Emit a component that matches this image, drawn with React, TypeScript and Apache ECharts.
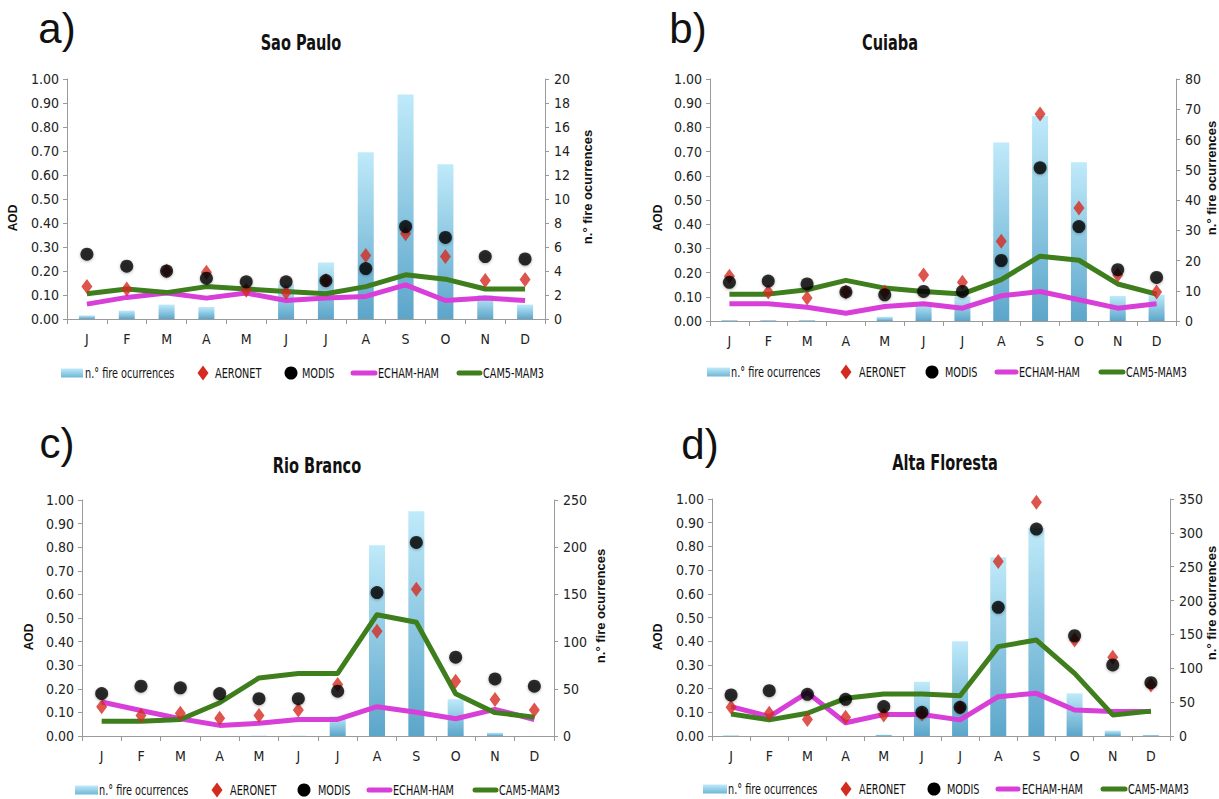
import React, { useEffect, useRef } from "react";
import * as echarts from "echarts";

const months = ["J", "F", "M", "A", "M", "J", "J", "A", "S", "O", "N", "D"];
const aodTicks = { min: 0, max: 1, interval: 0.1 };

// a) Sao Paulo
const fireSaoPaulo = [0.3, 0.7, 1.2, 1.0, 0, 2.9, 4.7, 13.9, 18.7, 12.9, 2.0, 1.2];
const aeronetSaoPaulo = [0.135, 0.125, 0.2, 0.195, 0.12, 0.11, 0.16, 0.265, 0.355, 0.26, 0.16, 0.165];
const modisSaoPaulo = [0.27, 0.22, 0.2, 0.17, 0.155, 0.155, 0.16, 0.21, 0.385, 0.34, 0.26, 0.25];
const echamSaoPaulo = [0.062, 0.09, 0.108, 0.087, 0.108, 0.077, 0.087, 0.094, 0.142, 0.077, 0.087, 0.077];
const camSaoPaulo = [0.105, 0.125, 0.11, 0.135, 0.125, 0.115, 0.105, 0.135, 0.184, 0.166, 0.125, 0.125];

// b) Cuiaba
const fireCuiaba = [0.3, 0.3, 0.3, 0, 1.4, 5.9, 8.1, 59, 67.8, 52.5, 8.3, 8.7];
const aeronetCuiaba = [0.185, 0.12, 0.095, 0.12, 0.12, 0.19, 0.16, 0.33, 0.855, 0.467, 0.19, 0.12];
const modisCuiaba = [0.16, 0.165, 0.153, 0.12, 0.108, 0.122, 0.122, 0.25, 0.633, 0.39, 0.212, 0.18];
const echamCuiaba = [0.071, 0.071, 0.057, 0.032, 0.06, 0.071, 0.053, 0.104, 0.122, 0.088, 0.053, 0.071];
const camCuiaba = [0.111, 0.111, 0.129, 0.168, 0.136, 0.122, 0.112, 0.171, 0.268, 0.251, 0.153, 0.111];

// c) Rio Branco
const fireRioBranco = [0, 0, 0, 0, 0.5, 0.5, 21, 202, 238, 39, 3.5, 0];
const aeronetRioBranco = [0.124, 0.087, 0.096, 0.075, 0.087, 0.11, 0.218, 0.444, 0.622, 0.232, 0.155, 0.11];
const modisRioBranco = [0.18, 0.211, 0.204, 0.18, 0.158, 0.158, 0.19, 0.608, 0.82, 0.334, 0.242, 0.211];
const echamRioBranco = [0.144, 0.108, 0.073, 0.045, 0.054, 0.07, 0.07, 0.124, 0.101, 0.073, 0.113, 0.07];
const camRioBranco = [0.063, 0.063, 0.07, 0.141, 0.246, 0.265, 0.265, 0.514, 0.482, 0.179, 0.099, 0.08];

// d) Alta Floresta
const fireAltaFloresta = [1, 0, 0, 0, 2, 80, 140, 264, 307, 63, 7.9, 1.5];
const aeronetAltaFloresta = [0.121, 0.096, 0.07, 0.079, 0.089, 0.093, 0.12, 0.736, 0.986, 0.405, 0.332, 0.215];
const modisAltaFloresta = [0.173, 0.191, 0.176, 0.155, 0.124, 0.1, 0.121, 0.543, 0.873, 0.423, 0.3, 0.225];
const echamAltaFloresta = [0.124, 0.082, 0.183, 0.056, 0.091, 0.091, 0.068, 0.166, 0.18, 0.11, 0.103, 0.103];
const camAltaFloresta = [0.093, 0.068, 0.096, 0.159, 0.177, 0.177, 0.17, 0.377, 0.405, 0.264, 0.089, 0.105];

const fireAxisMax = [20, 80, 250, 350];
const fireAxisStep = [2, 10, 50, 50];
const stationNames = ["Sao Paulo", "Cuiaba", "Rio Branco", "Alta Floresta"];
const panelLetters = ["a)", "b)", "c)", "d)"];
const legendNames = ["n.° fire ocurrences", "AERONET", "MODIS", "ECHAM-HAM", "CAM5-MAM3"];

const fires = [fireSaoPaulo, fireCuiaba, fireRioBranco, fireAltaFloresta];
const aeronets = [aeronetSaoPaulo, aeronetCuiaba, aeronetRioBranco, aeronetAltaFloresta];
const modises = [modisSaoPaulo, modisCuiaba, modisRioBranco, modisAltaFloresta];
const echams = [echamSaoPaulo, echamCuiaba, echamRioBranco, echamAltaFloresta];
const cams = [camSaoPaulo, camCuiaba, camRioBranco, camAltaFloresta];

// layout (pixels)
const grids = [
  { left: 67, top: 79, width: 478, height: 240 },
  { left: 710, top: 79, width: 466, height: 242 },
  { left: 82, top: 500, width: 472, height: 236 },
  { left: 712, top: 499, width: 458, height: 237 },
];
const letterPos = [[57, 28], [688, 28], [57, 443], [700, 444]];
const titlePos = [[301, 43], [890, 43], [317, 466], [945, 463]];
const aodPos = [[13, 218], [658, 218], [29, 637], [658, 637]];
const firePos = [[587, 187], [1211, 178], [600, 606], [1211, 603]];
const legendLayouts = [
  { y: 373, bar: [61, 83], barT: 85, dia: 203, diaT: 215, dot: 291, dotT: 302, ech: [351, 377], echT: 378, cam: [457, 482], camT: 483 },
  { y: 372, bar: [707, 730], barT: 731, dia: 846, diaT: 859, dot: 932, dotT: 945, ech: [995, 1018], echT: 1019, cam: [1099, 1125], camT: 1126 },
  { y: 790, bar: [75, 98], barT: 99, dia: 217, diaT: 230, dot: 304, dotT: 318, ech: [367, 392], echT: 393, cam: [473, 498], camT: 499 },
  { y: 789, bar: [703, 727], barT: 728, dia: 846, diaT: 859, dot: 934, dotT: 947, ech: [996, 1020], echT: 1022, cam: [1101, 1127], camT: 1128 },
];

const NARROW = '"Liberation Sans Narrow", "DejaVu Sans Condensed", "Arial Narrow", sans-serif';
const ARIAL = '"Liberation Sans", Arial, sans-serif';
const AXIS_GRAY = "#9a9a9a";
const MAGENTA = "#d83fd8";
const GREEN = "#3f7e1d";
const RED = "#d42b1f";

const barGradient = () =>
  new echarts.graphic.LinearGradient(0, 0, 0, 1, [
    { offset: 0, color: "#bfeafa" },
    { offset: 1, color: "#5ca6ca" },
  ]);

function txt(
  x: number,
  y: number,
  text: string,
  size: number,
  family: string,
  weight: string,
  align: string,
  rotation = 0,
  scaleX = 1
) {
  return {
    type: "text",
    x,
    y,
    rotation,
    scaleX,
    style: {
      text,
      fill: "#111",
      fontSize: size,
      fontFamily: family,
      fontWeight: weight,
      align,
      verticalAlign: "middle",
      textAlign: align,
      textVerticalAlign: "middle",
    },
  };
}

function buildOption() {
  const xAxis: any[] = [];
  const yAxis: any[] = [];
  const series: any[] = [];
  const graphic: any[] = [];

  for (let i = 0; i < 4; i++) {
    xAxis.push({
      gridIndex: i,
      type: "category",
      data: months,
      axisLine: { lineStyle: { color: AXIS_GRAY, width: 1 } },
      axisTick: { show: true, length: 5, lineStyle: { color: AXIS_GRAY } },
      axisLabel: { margin: 13, fontSize: 14, color: "#222", fontFamily: NARROW },
      splitLine: { show: false },
    });
    yAxis.push({
      gridIndex: i,
      type: "value",
      position: "left",
      min: aodTicks.min,
      max: aodTicks.max,
      interval: aodTicks.interval,
      axisLine: { show: true, lineStyle: { color: AXIS_GRAY } },
      axisTick: { show: true, length: 4, lineStyle: { color: AXIS_GRAY } },
      splitLine: { show: false },
      axisLabel: {
        margin: 8,
        fontSize: 14,
        color: "#222",
        fontFamily: NARROW,
        formatter: (v: number) => v.toFixed(2),
      },
    });
    yAxis.push({
      gridIndex: i,
      type: "value",
      position: "right",
      min: 0,
      max: fireAxisMax[i],
      interval: fireAxisStep[i],
      axisLine: { show: true, lineStyle: { color: AXIS_GRAY } },
      axisTick: { show: true, length: 4, lineStyle: { color: AXIS_GRAY } },
      splitLine: { show: false },
      axisLabel: { margin: 9, fontSize: 14, color: "#222", fontFamily: NARROW },
    });

    series.push({
      name: legendNames[0],
      type: "bar",
      xAxisIndex: i,
      yAxisIndex: 2 * i + 1,
      data: fires[i],
      barWidth: 16,
      itemStyle: { color: barGradient() },
      z: 1,
    });
    series.push({
      name: legendNames[3],
      type: "line",
      xAxisIndex: i,
      yAxisIndex: 2 * i,
      data: echams[i],
      symbol: "none",
      lineStyle: { width: 5, color: MAGENTA, join: "round" },
      itemStyle: { color: MAGENTA },
      z: 2,
    });
    series.push({
      name: legendNames[4],
      type: "line",
      xAxisIndex: i,
      yAxisIndex: 2 * i,
      data: cams[i],
      symbol: "none",
      lineStyle: { width: 5, color: GREEN, join: "round" },
      itemStyle: { color: GREEN },
      z: 3,
    });
    series.push({
      name: legendNames[1],
      type: "scatter",
      xAxisIndex: i,
      yAxisIndex: 2 * i,
      data: aeronets[i],
      symbol: "diamond",
      symbolSize: [11, 15],
      itemStyle: { color: RED },
      z: 4,
    });
    series.push({
      name: legendNames[2],
      type: "scatter",
      xAxisIndex: i,
      yAxisIndex: 2 * i,
      data: modises[i],
      symbol: "circle",
      symbolSize: 13,
      itemStyle: { color: "#000", shadowBlur: 3, shadowColor: "rgba(0,0,0,0.35)", shadowOffsetY: 1 },
      z: 5,
    });

    // texts
    graphic.push(txt(letterPos[i][0], letterPos[i][1], panelLetters[i], 42, ARIAL, "normal", "center"));
    graphic.push(txt(titlePos[i][0], titlePos[i][1], stationNames[i], 21, NARROW, "bold", "center", 0, 0.77));
    graphic.push(txt(aodPos[i][0], aodPos[i][1], "AOD", 12, ARIAL, "bold", "center", Math.PI / 2));
    graphic.push(txt(firePos[i][0], firePos[i][1], "n.° fire ocurrences", 13, ARIAL, "bold", "center", Math.PI / 2));

    // legend
    const L = legendLayouts[i];
    const y = L.y;
    const LS = 0.77;
    const LF = 14;
    graphic.push({
      type: "rect",
      shape: { x: L.bar[0], y: y - 4.5, width: L.bar[1] - L.bar[0], height: 9 },
      style: {
        fill: new echarts.graphic.LinearGradient(0, 0, 0, 1, [
          { offset: 0, color: "#bfeafa" },
          { offset: 1, color: "#6fb6d6" },
        ]),
      },
    });
    graphic.push(txt(L.barT, y, legendNames[0], LF, NARROW, "normal", "left", 0, LS));
    graphic.push({
      type: "polygon",
      shape: { points: [[L.dia, y - 7.5], [L.dia + 5.5, y], [L.dia, y + 7.5], [L.dia - 5.5, y]] },
      style: { fill: RED },
    });
    graphic.push(txt(L.diaT, y, legendNames[1], LF, NARROW, "normal", "left", 0, LS));
    graphic.push({
      type: "circle",
      shape: { cx: L.dot, cy: y, r: 6.5 },
      style: { fill: "#000" },
    });
    graphic.push(txt(L.dotT, y, legendNames[2], LF, NARROW, "normal", "left", 0, LS));
    graphic.push({
      type: "line",
      shape: { x1: L.ech[0] + 2, y1: y, x2: L.ech[1] - 2, y2: y },
      style: { stroke: MAGENTA, lineWidth: 5, lineCap: "round" },
    });
    graphic.push(txt(L.echT, y, legendNames[3], LF, NARROW, "normal", "left", 0, LS));
    graphic.push({
      type: "line",
      shape: { x1: L.cam[0] + 2, y1: y, x2: L.cam[1] - 2, y2: y },
      style: { stroke: GREEN, lineWidth: 5, lineCap: "round" },
    });
    graphic.push(txt(L.camT, y, legendNames[4], LF, NARROW, "normal", "left", 0, LS));
  }

  return {
    animation: false,
    backgroundColor: "#ffffff",
    grid: grids.map((g) => ({ ...g, containLabel: false })),
    xAxis,
    yAxis,
    series,
    graphic,
  };
}

export default function App() {
  const ref = useRef<HTMLDivElement>(null);
  useEffect(() => {
    if (!ref.current) return;
    const chart = echarts.init(ref.current, undefined, { renderer: "svg" });
    chart.setOption(buildOption() as any);
    return () => chart.dispose();
  }, []);
  return (
    <div
      ref={ref}
      style={{ position: "absolute", left: 0, top: 0, width: 1219, height: 799, background: "#fff" }}
    />
  );
}
